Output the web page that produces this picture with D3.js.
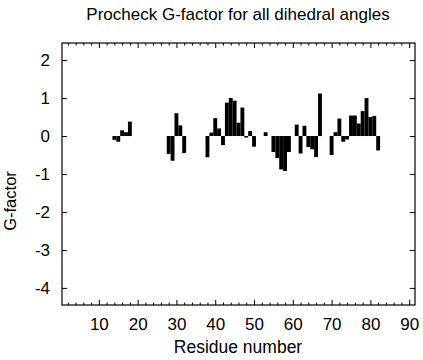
<!DOCTYPE html>
<html>
<head>
<meta charset="utf-8">
<script src="https://cdn.jsdelivr.net/npm/d3@7"></script>
<style>
    body { margin: 0; background: #fff; }
    text { font-family: "Liberation Sans", Arial, Helvetica, sans-serif; fill: #000; }
</style>
</head>
<body>
<svg id="chart" width="423" height="360"></svg>
<script>
// Residues with a G-factor value (gaps = no value)
const residues = [14, 15, 16, 17, 18,
    28, 29, 30, 31, 32,
    38, 39, 40, 41, 42, 43, 44, 45, 46, 47, 48, 49, 50,
    53,
    55, 56, 57, 58, 59,
    61, 62, 63, 64, 65, 66, 67,
    70, 71, 72, 73, 74, 75, 76, 77, 78, 79, 80, 81, 82];
const gFactor = [-0.10, -0.15, 0.15, 0.10, 0.38,
    -0.47, -0.65, 0.60, 0.28, -0.45,
    -0.56, 0.09, 0.47, 0.20, -0.24, 0.88, 1.00, 0.93, 0.35, 0.75, -0.04, 0.13, -0.28,
    0.10,
    -0.42, -0.58, -0.88, -0.92, -0.42,
    0.30, -0.46, 0.27, -0.29, -0.35, -0.55, 1.12,
    -0.50, 0.10, 0.46, -0.15, -0.09, 0.54, 0.54, 0.33, 0.66, 1.00, 0.50, 0.53, -0.38];

const xTicks = [10, 20, 30, 40, 50, 60, 70, 80, 90];
const yTicks = [-4, -3, -2, -1, 0, 1, 2];

const title = "Procheck G-factor for all dihedral angles";
const xTitle = "Residue number";
const yTitle = "G-factor";

const plot = { left: 62, right: 415, top: 43, bottom: 305 };

const svg = d3.select("#chart");

const x = d3.scaleLinear().domain([0.5, 91.5]).range([plot.left, plot.right]);
const y = d3.scaleLinear().domain([-4.45, 2.45]).range([plot.bottom, plot.top]);

const data = residues.map((r, i) => ({ r: r, v: gFactor[i] }));

// Bars
svg.append("g")
    .selectAll("rect")
    .data(data)
    .join("rect")
    .attr("x", d => x(d.r - 0.5))
    .attr("width", d => x(d.r + 0.5) - x(d.r - 0.5))
    .attr("y", d => y(Math.max(0, d.v)))
    .attr("height", d => Math.abs(y(d.v) - y(0)))
    .attr("fill", "#000");

// Axes (ticks point inwards, on all four sides)
const minorX = d3.range(2, 91, 2).filter(v => v % 10 !== 0);

function styleAxis(g) {
    g.select(".domain").remove();
    g.selectAll("line").attr("stroke", "#000");
    g.selectAll("text").attr("font-size", 17).attr("fill", "#000")
        .attr("font-family", "Liberation Sans, Arial, sans-serif");
}

svg.append("g")
    .attr("transform", `translate(0,${plot.bottom})`)
    .call(d3.axisBottom(x).tickValues(xTicks).tickSizeInner(-5).tickSizeOuter(0).tickPadding(13))
    .call(styleAxis);
svg.append("g")
    .attr("transform", `translate(0,${plot.bottom})`)
    .call(d3.axisBottom(x).tickValues(minorX).tickFormat("").tickSizeInner(-2.5).tickSizeOuter(0))
    .call(styleAxis);
svg.append("g")
    .attr("transform", `translate(0,${plot.top})`)
    .call(d3.axisTop(x).tickValues(xTicks).tickFormat("").tickSizeInner(-5).tickSizeOuter(0))
    .call(styleAxis);
svg.append("g")
    .attr("transform", `translate(0,${plot.top})`)
    .call(d3.axisTop(x).tickValues(minorX).tickFormat("").tickSizeInner(-2.5).tickSizeOuter(0))
    .call(styleAxis);
svg.append("g")
    .attr("transform", `translate(${plot.left},0)`)
    .call(d3.axisLeft(y).tickValues(yTicks).tickFormat(d => String(d)).tickSizeInner(-5).tickSizeOuter(0).tickPadding(12))
    .call(styleAxis);
svg.append("g")
    .attr("transform", `translate(${plot.right},0)`)
    .call(d3.axisRight(y).tickValues(yTicks).tickFormat("").tickSizeInner(-5).tickSizeOuter(0))
    .call(styleAxis);

// Frame
svg.append("rect")
    .attr("x", plot.left)
    .attr("y", plot.top)
    .attr("width", plot.right - plot.left)
    .attr("height", plot.bottom - plot.top)
    .attr("fill", "none")
    .attr("stroke", "#000")
    .attr("stroke-width", 1.2);

// Titles
svg.append("text")
    .attr("x", 238)
    .attr("y", 20)
    .attr("text-anchor", "middle")
    .attr("font-size", 17)
    .text(title);

svg.append("text")
    .attr("x", 238)
    .attr("y", 353)
    .attr("text-anchor", "middle")
    .attr("font-size", 17.5)
    .text(xTitle);

svg.append("text")
    .attr("transform", "translate(16,201) rotate(-90)")
    .attr("text-anchor", "middle")
    .attr("font-size", 16.5)
    .text(yTitle);
</script>
</body>
</html>
